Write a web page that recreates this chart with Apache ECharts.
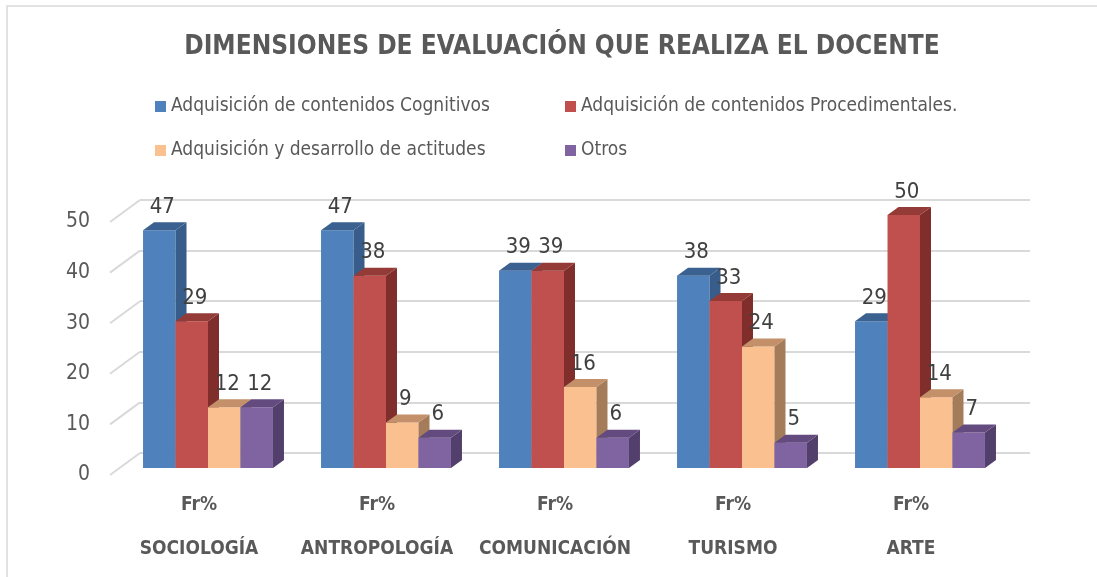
<!DOCTYPE html>
<html>
<head>
<meta charset="utf-8">
<script src="https://cdn.jsdelivr.net/npm/echarts@6/dist/echarts.min.js"></script>
<style>
  html, body { margin: 0; padding: 0; background: #fff; }
  #chart { width: 1097px; height: 577px; }
</style>
</head>
<body>
<div id="chart"></div>
<script>
// datos
const categories = ["SOCIOLOGÍA", "ANTROPOLOGÍA", "COMUNICACIÓN", "TURISMO", "ARTE"];
const cognitivos = [47, 47, 39, 38, 29];
const procedimentales = [29, 38, 39, 33, 50];
const actitudes = [12, 9, 16, 24, 14];
const otros = [12, 6, 6, 5, 7];
const yTicks = [0, 10, 20, 30, 40, 50];

const FONT = "'Liberation Sans Narrow', 'Arial Narrow', 'DejaVu Sans Condensed', sans-serif";
const DEPTH_X = 30, DEPTH_Y = -22; // profundidad de la pared
const BAR_DX = 11, BAR_DY = -8;     // profundidad de cada barra

const chart = echarts.init(document.getElementById("chart"));

// caras: frente, lateral, arriba
function bar3d(idx, colors) {
  return function (params, api) {
    const ci = api.value(0), v = api.value(1);
    const top = api.coord([ci, v]);
    const base = api.coord([ci, 0]);
    const cw = api.size([1, 0])[0];
    const bw = cw * 0.73 / 4;
    const x0 = top[0] - 2 * bw + idx * bw + 9;
    const x1 = x0 + bw;
    const yt = top[1] - 7, yb = base[1] - 7;
    return {
      type: "group",
      children: [
        { type: "rect", shape: { x: x0, y: yt, width: bw, height: yb - yt },
          style: { fill: colors[0] } },
        { type: "polygon", shape: { points: [[x1, yt], [x1 + BAR_DX, yt + BAR_DY], [x1 + BAR_DX, yb + BAR_DY], [x1, yb]] },
          style: { fill: colors[1] } },
        { type: "polygon", shape: { points: [[x0, yt], [x0 + BAR_DX, yt + BAR_DY], [x1 + BAR_DX, yt + BAR_DY], [x1, yt]] },
          style: { fill: colors[2] } },
        { type: "text", x: (x0 + x1) / 2 + 3, y: yt - 23,
          style: { text: String(v), fontFamily: FONT, fontSize: 22, fill: "#404040", align: "center", verticalAlign: "middle" } }
      ]
    };
  };
}

const seriesDefs = [
  { name: "Adquisición de contenidos Cognitivos", data: cognitivos, colors: ["#4f81bd", "#385d8a", "#3a6190"] },
  { name: "Adquisición de contenidos Procedimentales.", data: procedimentales, colors: ["#c0504d", "#7f2e2c", "#943a37"] },
  { name: "Adquisición y desarrollo de actitudes", data: actitudes, colors: ["#fac090", "#a47c5a", "#c3906a"] },
  { name: "Otros", data: otros, colors: ["#8064a2", "#523f6b", "#634b80"] }
];

const legendPos = [[150, 92], [560, 92], [150, 136], [560, 136]];

chart.setOption({
  animation: false,
  title: {
    text: "DIMENSIONES DE EVALUACIÓN QUE REALIZA EL DOCENTE",
    left: 557, top: 29, textAlign: "center",
    textStyle: { fontFamily: FONT, fontSize: 26, fontWeight: "bold", color: "#595959" }
  },
  legend: seriesDefs.map(function (s, i) {
    return {
      left: legendPos[i][0], top: legendPos[i][1],
      data: [s.name], icon: "rect", itemWidth: 11, itemHeight: 11,
      textStyle: { fontFamily: FONT, fontSize: 19, color: "#595959" }
    };
  }),
  graphic: [{
    type: "rect", shape: { x: 7, y: 6, width: 1200, height: 700 },
    style: { fill: "none", stroke: "#d9d9d9", lineWidth: 1.5 }, silent: true
  }],
  grid: [
    { left: 110, right: 97, top: 222, bottom: 102 },   // plano frontal
    { left: 140, right: 67, top: 200, bottom: 124 }     // pared del fondo
  ],
  xAxis: [
    { type: "category", gridIndex: 0, data: categories,
      axisLine: { show: false }, axisTick: { show: false },
      axisLabel: { interval: 0, margin: 8, lineHeight: 44, fontFamily: FONT, fontSize: 19, fontWeight: "bold", color: "#595959",
        formatter: function (v) { return "Fr%\n" + v; } } },
    { type: "category", gridIndex: 1, data: categories, show: false }
  ],
  yAxis: [
    { type: "value", gridIndex: 0, min: 0, max: 50, interval: 10,
      axisLine: { show: false }, axisTick: { show: false }, splitLine: { show: false },
      axisLabel: { margin: 20, fontFamily: FONT, fontSize: 21, color: "#595959" } },
    { type: "value", gridIndex: 1, min: 0, max: 50, interval: 10,
      axisLine: { show: false }, axisTick: { show: false }, axisLabel: { show: false },
      splitLine: { lineStyle: { color: "#d9d9d9", width: 2 } } }
  ],
  series: [
    {
      type: "custom", xAxisIndex: 0, yAxisIndex: 0, silent: true,
      data: yTicks.map(function (t) { return [0, t]; }),
      renderItem: function (params, api) {
        const y = api.coord([0, api.value(1)])[1];
        const x = params.coordSys.x;
        return { type: "line", shape: { x1: x, y1: y, x2: x + DEPTH_X, y2: y + DEPTH_Y },
          style: { stroke: "#d9d9d9", lineWidth: 2 } };
      }
    }
  ].concat(seriesDefs.map(function (s, i) {
    return {
      type: "custom", name: s.name, xAxisIndex: 0, yAxisIndex: 0,
      itemStyle: { color: s.colors[0] },
      data: s.data.map(function (v, k) { return [k, v]; }),
      renderItem: bar3d(i, s.colors)
    };
  }))
});
</script>
</body>
</html>
